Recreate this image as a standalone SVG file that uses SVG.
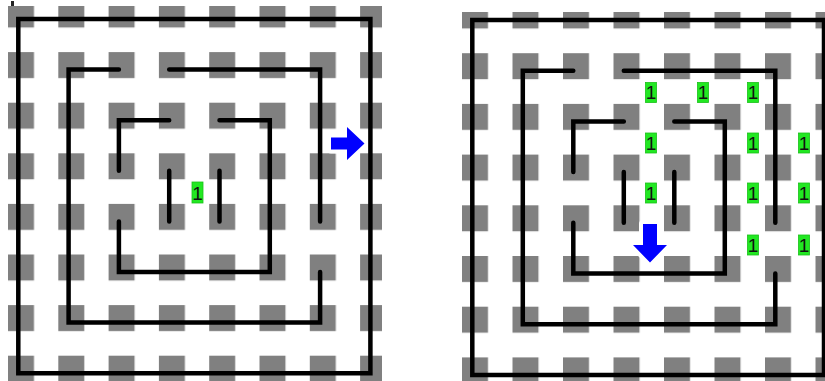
<svg xmlns="http://www.w3.org/2000/svg" width="825" height="381" viewBox="0 0 825 381">
  <style>
    .wall { fill: none; stroke: #000; stroke-width: 4.5; stroke-linecap: round; stroke-linejoin: miter; }
    .arrow { fill: #0000ff; stroke: #fff; stroke-width: 8; stroke-linejoin: round; paint-order: stroke; }
    .lbl rect { fill: #22e822; stroke: #19c019; stroke-width: 0.8; }
    .lbl text { font-family: "Liberation Sans", Arial, sans-serif; font-size: 19px; fill: #111; text-anchor: middle; }
  </style>
  <defs>
    <pattern id="gridL" patternUnits="userSpaceOnUse" x="8" y="1.5" width="50.3" height="50.6">
      <rect x="0" y="0" width="26" height="26" fill="#808080"/>
    </pattern>
    <pattern id="gridR" patternUnits="userSpaceOnUse" x="462" y="2.5" width="50.5" height="50.7">
      <rect x="0" y="0" width="26" height="26" fill="#808080"/>
    </pattern>
  </defs>
  <rect width="825" height="381" fill="#fff"/>
  <rect x="11" y="1" width="3" height="5" fill="#222"/>

  <g id="left-panel">
    <rect id="left-grid" x="8" y="6" width="374" height="375" fill="url(#gridL)"/>
    <polygon id="left-arrow" class="arrow" points="331,137.5 347,137.5 347,127 364.5,143.5 347,160 347,149.5 331,149.5"/>
    <g id="left-walls" class="wall">
      <path d="M18.3 19 H370.4 V373.2 H18.3 Z"/>
      <path d="M118.9 69.6 H68.6 V322.6 H320.1 V272"/>
      <path d="M169.2 69.6 H320.1 V221.4"/>
      <path d="M169.2 120.2 H118.9 V170.8"/>
      <path d="M118.9 221.4 V272 H269.8 V120.2 H219.5"/>
      <path d="M169.2 170.8 V221.4 M219.5 170.8 V221.4"/>
    </g>
    <g id="left-label" class="lbl"><rect x="192" y="182" width="11" height="21"/><text x="197.5" y="199.5">1</text></g>
  </g>

  <g id="right-panel">
    <rect id="right-grid" x="462" y="12" width="363" height="369" fill="url(#gridR)"/>
    <polygon id="right-arrow" class="arrow" points="643,224 657,224 657,245 667,245 650,262.5 633,245 643,245"/>
    <g id="right-walls" class="wall">
      <path d="M472.3 20 H824 V374.9 H472.3 Z"/>
      <path d="M573.3 70.7 H522.8 V324.2 H775.3 V273.5"/>
      <path d="M623.8 70.7 H775.3 V222.8"/>
      <path d="M623.8 121.4 H573.3 V172.1"/>
      <path d="M573.3 222.8 V273.5 H724.8 V121.4 H674.3"/>
      <path d="M623.8 172.1 V222.8 M674.3 172.1 V222.8"/>
    </g>
    <g id="right-labels" class="lbl">
      <g id="r1"><rect x="645.5" y="82.5" width="11" height="20"/><text x="651" y="99.3">1</text></g>
      <g id="r2"><rect x="697.5" y="82.5" width="11" height="20"/><text x="703" y="99.3">1</text></g>
      <g id="r3"><rect x="747.5" y="82.5" width="11" height="20"/><text x="753" y="99.3">1</text></g>
      <g id="r4"><rect x="645.5" y="133" width="11" height="20"/><text x="651" y="149.8">1</text></g>
      <g id="r5"><rect x="747.5" y="133" width="11" height="20"/><text x="753" y="149.8">1</text></g>
      <g id="r6"><rect x="798.5" y="133" width="11" height="20"/><text x="804" y="149.8">1</text></g>
      <g id="r7"><rect x="645.5" y="183" width="11" height="20"/><text x="651" y="199.8">1</text></g>
      <g id="r8"><rect x="747.5" y="183" width="11" height="20"/><text x="753" y="199.8">1</text></g>
      <g id="r9"><rect x="798.5" y="183" width="11" height="20"/><text x="804" y="199.8">1</text></g>
      <g id="r10"><rect x="747.5" y="235" width="11" height="20"/><text x="753" y="251.8">1</text></g>
      <g id="r11"><rect x="798.5" y="235" width="11" height="20"/><text x="804" y="251.8">1</text></g>
    </g>
  </g>
</svg>
